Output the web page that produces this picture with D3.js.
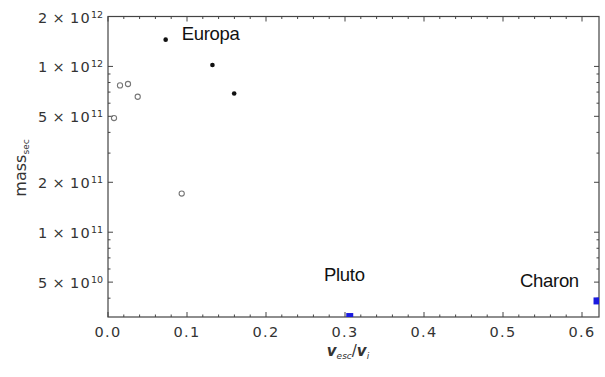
<!DOCTYPE html>
<html><head><meta charset="utf-8">
<script src="https://cdn.jsdelivr.net/npm/d3@7"></script>
<style>
html,body{margin:0;padding:0;background:#fff;}
svg{display:block;}
</style></head>
<body>
<svg id="c" width="605" height="377"></svg>
<script>
// ---- data ----
const openX = [0.0076, 0.0152, 0.0253, 0.0376, 0.0933];
const openY = [4.88e11, 7.68e11, 7.83e11, 6.56e11, 1.71e11];
const filledX = [0.073, 0.1322, 0.1597];
const filledY = [1.45e12, 1.02e12, 6.87e11];
const blueX = [0.306, 0.619];
const blueY = [3.1e10, 3.85e10];
const labelText = ["Europa", "Pluto", "Charon"];
const labelX = [0.0933, 0.2734, 0.5215];
const labelY = [1.435e12, 5.08e10, 4.69e10];
const xTicks = [0, 0.1, 0.2, 0.3, 0.4, 0.5, 0.6];
const xTickLabels = ["0.0", "0.1", "0.2", "0.3", "0.4", "0.5", "0.6"];
const yTickMant = [2, 1, 5, 2, 1, 5];
const yTickExp = [12, 12, 11, 11, 11, 10];

const svg = d3.select("#c");
const L = 108, R = 599, T = 16.5, B = 317;
const x = d3.scaleLinear().domain([0, 0.6215]).range([L, R]);
const y = d3.scaleLog().domain([3.08e10, 2e12]).range([B, T]);
const frameColor = "#444";
const textColor = "#333";

svg.append("defs").append("clipPath").attr("id", "clip")
  .append("rect").attr("x", L).attr("y", T).attr("width", R - L).attr("height", B - T);

// ticks
const xMinor = d3.range(0, 0.62, 0.02).filter(v => Math.abs(v * 10 - Math.round(v * 10)) > 1e-6);
const g = svg.append("g");
function vt(v, len) { // vertical ticks bottom & top
  g.append("line").attr("x1", x(v)).attr("x2", x(v)).attr("y1", B).attr("y2", B - len).attr("stroke", frameColor);
  g.append("line").attr("x1", x(v)).attr("x2", x(v)).attr("y1", T).attr("y2", T + len).attr("stroke", frameColor);
}
xTicks.forEach(v => vt(v, 5));
xMinor.forEach(v => vt(v, 2.5));

const yMajor = yTickMant.map((m, i) => m * Math.pow(10, yTickExp[i]));
const yMinor = [];
[10, 11, 12].forEach(e => { for (let m = 1; m <= 9; m++) { const v = m * Math.pow(10, e); if (v >= 3.08e10 && v <= 2e12 && !yMajor.some(u => Math.abs(u - v) / v < 1e-6)) yMinor.push(v); } });
function ht(v, len) {
  g.append("line").attr("y1", y(v)).attr("y2", y(v)).attr("x1", L).attr("x2", L + len).attr("stroke", frameColor);
  g.append("line").attr("y1", y(v)).attr("y2", y(v)).attr("x1", R).attr("x2", R - len).attr("stroke", frameColor);
}
yMajor.forEach(v => ht(v, 5));
yMinor.forEach(v => ht(v, 2.5));

// frame
svg.append("rect").attr("x", L).attr("y", T).attr("width", R - L).attr("height", B - T)
  .attr("fill", "none").attr("stroke", frameColor).attr("stroke-width", 1.2);

// x tick labels
svg.append("g").selectAll("text").data(xTicks).join("text")
  .attr("x", d => x(d)).attr("y", 337).attr("text-anchor", "middle")
  .attr("font-family", "DejaVu Sans").attr("font-size", 14.5).attr("letter-spacing", 1.3)
  .attr("fill", textColor).text((d, i) => xTickLabels[i]);

// y tick labels
yMajor.forEach((v, i) => {
  const t = svg.append("text").attr("x", 103).attr("y", y(v) + 6).attr("text-anchor", "end")
    .attr("font-family", "DejaVu Sans").attr("fill", textColor);
  t.append("tspan").attr("font-size", 14.5).attr("letter-spacing", 1.2).text(yTickMant[i] + "\u2009×\u200910");
  t.append("tspan").attr("font-size", 9.5).attr("dy", -5).text(yTickExp[i]);
});

// axis titles
const yt = svg.append("text").attr("transform", "translate(26,168) rotate(-90)")
  .attr("text-anchor", "middle").attr("font-family", "DejaVu Sans").attr("fill", textColor);
yt.append("tspan").attr("font-size", 16).text("mass");
yt.append("tspan").attr("font-size", 9).attr("dy", 3).text("sec");

const xt = svg.append("text").attr("x", 348).attr("y", 356).attr("text-anchor", "middle")
  .attr("font-family", "DejaVu Sans").attr("fill", textColor);
xt.append("tspan").attr("font-size", 15).attr("font-weight", "bold").attr("font-style", "italic").text("v");
xt.append("tspan").attr("font-size", 9).attr("font-style", "italic").attr("dy", 3).text("esc");
xt.append("tspan").attr("font-size", 15).attr("dy", -3).text("/");
xt.append("tspan").attr("font-size", 15).attr("font-weight", "bold").attr("font-style", "italic").text("v");
xt.append("tspan").attr("font-size", 9).attr("font-style", "italic").attr("dy", 3).text("i");

// marks
const plot = svg.append("g").attr("clip-path", "url(#clip)");
plot.selectAll("circle.o").data(openX).join("circle").attr("class", "o")
  .attr("cx", d => x(d)).attr("cy", (d, i) => y(openY[i])).attr("r", 2.6)
  .attr("fill", "none").attr("stroke", "#777").attr("stroke-width", 1.1);
plot.selectAll("circle.f").data(filledX).join("circle").attr("class", "f")
  .attr("cx", d => x(d)).attr("cy", (d, i) => y(filledY[i])).attr("r", 2.3)
  .attr("fill", "#111");
plot.selectAll("rect.b").data(blueX).join("rect").attr("class", "b")
  .attr("x", d => x(d) - 3.5).attr("y", (d, i) => y(blueY[i]) - 3.5)
  .attr("width", 7).attr("height", 7).attr("fill", "#1a1adf");

// annotations
svg.append("g").selectAll("text").data(labelText).join("text")
  .attr("x", (d, i) => x(labelX[i])).attr("y", (d, i) => y(labelY[i]))
  .attr("font-family", "Liberation Sans").attr("font-size", 18.5).attr("letter-spacing", -0.3)
  .attr("fill", "#111").text(d => d);
</script>
</body></html>
